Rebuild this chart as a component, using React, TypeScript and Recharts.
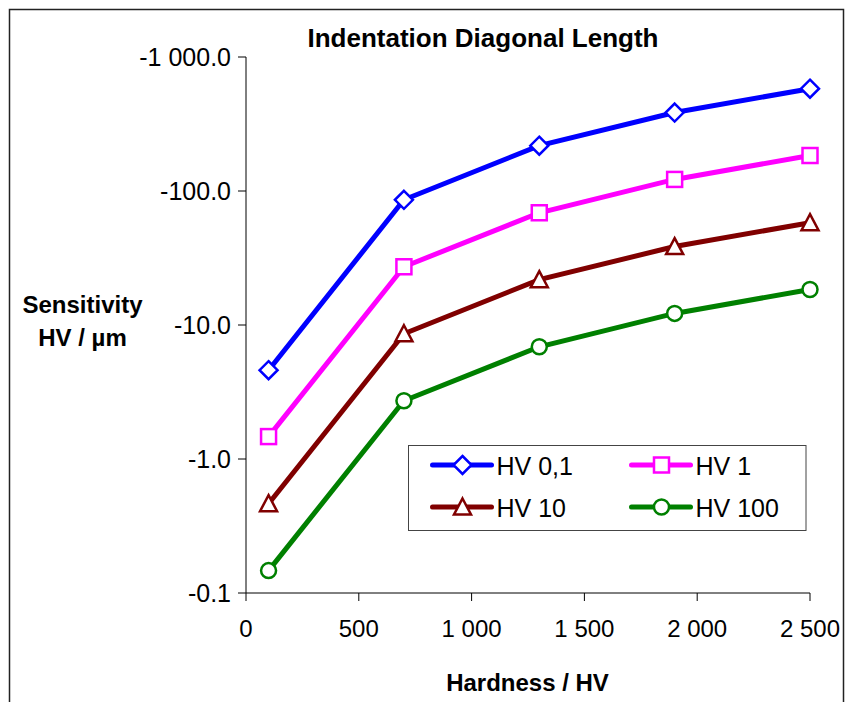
import React from 'react';
import { LineChart, Line, XAxis, YAxis, Legend } from 'recharts';

const hardness = [100, 700, 1300, 1900, 2500];
const hv01 = [4.6, 86, 218, 385, 580];
const hv1 = [1.47, 27.2, 68.8, 122, 184];
const hv10 = [0.464, 8.6, 21.8, 38.5, 58];
const hv100 = [0.147, 2.72, 6.88, 12.2, 18.4];
const xTicks = [0, 500, 1000, 1500, 2000, 2500];
const yTicks = [0.1, 1, 10, 100, 1000];
const seriesNames = ['HV 0,1', 'HV 1', 'HV 10', 'HV 100'];
const seriesKeys = ['hv01', 'hv1', 'hv10', 'hv100'];
const seriesColors = ['#0000FF', '#FF00FF', '#800000', '#008000'];
const seriesShapes = ['diamond', 'square', 'triangle', 'circle'];

const data = hardness.map((h, i) => ({
  h,
  hv01: hv01[i],
  hv1: hv1[i],
  hv10: hv10[i],
  hv100: hv100[i],
}));

const FONT = '"Liberation Sans", Arial, sans-serif';

const fmt = (v: number, d: number) => {
  const s = v.toFixed(d);
  const [ip, fp] = s.split('.');
  const sep = ip.replace(/\B(?=(\d{3})+(?!\d))/g, ' ');
  return fp !== undefined ? sep + '.' + fp : sep;
};

const Marker = ({ shape, cx, cy, color }: { shape: string; cx: number; cy: number; color: string }) => {
  const sw = 2.5;
  if (shape === 'diamond') {
    return <polygon points={`${cx},${cy - 9} ${cx + 9},${cy} ${cx},${cy + 9} ${cx - 9},${cy}`} fill="#fff" stroke={color} strokeWidth={sw} />;
  }
  if (shape === 'square') {
    return <rect x={cx - 7.5} y={cy - 7.5} width={15} height={15} fill="#fff" stroke={color} strokeWidth={sw} />;
  }
  if (shape === 'triangle') {
    return <polygon points={`${cx},${cy - 8.5} ${cx + 8.5},${cy + 7.5} ${cx - 8.5},${cy + 7.5}`} fill="#fff" stroke={color} strokeWidth={sw} />;
  }
  return <circle cx={cx} cy={cy} r={7.5} fill="#fff" stroke={color} strokeWidth={sw} />;
};

const makeDot = (shape: string, color: string) => (props: any) => (
  <Marker key={`${shape}-${props.index}`} shape={shape} cx={props.cx} cy={props.cy} color={color} />
);

const LegendBox = () => {
  const rows = [20, 62];
  const cols = [24.5, 223.5];
  return (
    <svg width={400} height={87} style={{ display: 'block' }}>
      <rect x={0.5} y={0.5} width={397.5} height={85} fill="#fff" stroke="#444" strokeWidth={1} />
      {seriesNames.map((name, i) => {
        const cy = rows[Math.floor(i / 2)];
        const x0 = cols[i % 2];
        return (
          <g key={name}>
            <line x1={x0} y1={cy} x2={x0 + 59} y2={cy} stroke={seriesColors[i]} strokeWidth={5} strokeLinecap="round" />
            <Marker shape={seriesShapes[i]} cx={x0 + 30} cy={cy} color={seriesColors[i]} />
            <text x={x0 + 64} y={cy + 10} fontFamily={FONT} fontSize={25} fill="#000">{name}</text>
          </g>
        );
      })}
    </svg>
  );
};

export default function App() {
  return (
    <div style={{ position: 'relative', width: 846, height: 702, background: '#fff', overflow: 'hidden' }}>
      <style>{'html{overflow:hidden} body{margin:0}'}</style>
      <div style={{ position: 'absolute', left: 8, top: 8, width: 838, height: 694 }}>
        <LineChart width={838} height={694} data={data} margin={{ top: 49, right: 36, bottom: 0, left: 0 }}>
          <XAxis
            dataKey="h"
            type="number"
            domain={[0, 2500]}
            ticks={xTicks}
            tickFormatter={(v: number) => fmt(v, 0)}
            height={109}
            tickSize={8}
            tickMargin={19}
            axisLine={{ stroke: '#000', strokeWidth: 1 }}
            tickLine={{ stroke: '#000', strokeWidth: 1 }}
            tick={{ fill: '#000', fontSize: 24, fontFamily: FONT }}
          />
          <YAxis
            type="number"
            scale="log"
            domain={[0.1, 1000]}
            ticks={yTicks}
            tickFormatter={(v: number) => '-' + fmt(v, 1)}
            width={238}
            tickSize={8}
            tickMargin={7}
            axisLine={{ stroke: '#000', strokeWidth: 1 }}
            tickLine={{ stroke: '#000', strokeWidth: 1 }}
            tick={{ fill: '#000', fontSize: 25, fontFamily: FONT }}
          />
          <Legend
            verticalAlign="middle"
            align="center"
            layout="horizontal"
            wrapperStyle={{ left: 400, top: 437, width: 400, height: 87 }}
            content={() => <LegendBox />}
          />
          {seriesKeys.map((k, i) => (
            <Line
              key={k}
              dataKey={k}
              name={seriesNames[i]}
              stroke={seriesColors[i]}
              strokeWidth={5}
              dot={makeDot(seriesShapes[i], seriesColors[i])}
              activeDot={false}
              isAnimationActive={false}
            />
          ))}
        </LineChart>
        <svg width={838} height={694} style={{ position: 'absolute', left: 0, top: 0, pointerEvents: 'none' }}>
          <path d="M1.5,694 V1.5 H835.5 V694" fill="none" stroke="#222" strokeWidth={1.5} />
          <text x={475} y={38.5} textAnchor="middle" fontFamily={FONT} fontWeight="bold" fontSize={26} fill="#000">
            Indentation Diagonal Length
          </text>
          <text x={74.5} y={305} textAnchor="middle" fontFamily={FONT} fontWeight="bold" fontSize={24} fill="#000">
            Sensitivity
          </text>
          <text x={74.5} y={338} textAnchor="middle" fontFamily={FONT} fontWeight="bold" fontSize={24} fill="#000">
            HV / µm
          </text>
          <text x={519.5} y={683} textAnchor="middle" fontFamily={FONT} fontWeight="bold" fontSize={24} fill="#000">
            Hardness / HV
          </text>
        </svg>
      </div>
    </div>
  );
}
